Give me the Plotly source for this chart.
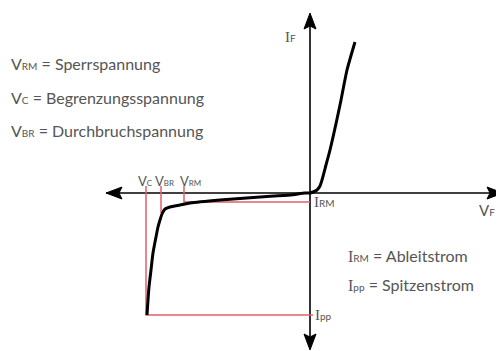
import plotly.graph_objects as go

# I-V characteristic (arbitrary units; origin = axis crossing)
curve_v = [-163, -162, -161, -159, -157, -154, -152, -150, -148, -145, -140, -130, -120,
           -90, -50, -20, -5, 0, 3, 7, 10, 12, 16, 20, 30, 37, 45]
curve_i = [-122, -107, -94, -77, -60, -44, -34, -27, -21, -16, -14, -12, -10,
           -7, -4, -2, 0, 0, 1, 3, 7, 13, 28, 43, 88, 123, 151]

# characteristic points
V_C, V_BR, V_RM = -164, -149, -126
I_RM, I_PP = -9, -122
I_BR = -20          # current on the curve at V_BR
MARK_TOP = 7        # top end of the red marker lines

# axis extents
X_MIN, X_MAX = -204, 193
Y_MIN, Y_MAX = -157, 180

SUB = "<span style='font-size:10px'>{}</span>"
SERIF_I = "<span style='font-family:\"Liberation Serif\"'>I</span>"

legend_left = ["V" + SUB.format("RM") + " = Sperrspannung",
               "V" + SUB.format("C") + " = Begrenzungsspannung",
               "V" + SUB.format("BR") + " = Durchbruchspannung"]
legend_left_i = [130, 96, 63]

legend_right = [SERIF_I + SUB.format("RM") + " = Ableitstrom",
                SERIF_I + SUB.format("pp") + " = Spitzenstrom"]
legend_right_i = [-62, -91]

RED = "#e0606c"
GREY = "#555555"
FONT = "Lato"

fig = go.Figure()

# axes
fig.add_trace(go.Scatter(x=[X_MIN, X_MAX - 10], y=[0, 0], mode="lines",
                         line=dict(color="black", width=1.6), hoverinfo="skip"))
fig.add_trace(go.Scatter(x=[0, 0], y=[Y_MIN + 10, Y_MAX - 10], mode="lines",
                         line=dict(color="black", width=1.6), hoverinfo="skip"))

# arrowheads
L, W, N = 16, 6, 3
heads = [
    ([X_MIN, X_MIN + L, X_MIN + L - N, X_MIN + L, X_MIN], [0, W, 0, -W, 0]),
    ([X_MAX, X_MAX - L, X_MAX - L + N, X_MAX - L, X_MAX], [0, W, 0, -W, 0]),
    ([0, W, 0, -W, 0], [Y_MAX, Y_MAX - L, Y_MAX - L + N, Y_MAX - L, Y_MAX]),
    ([0, W, 0, -W, 0], [Y_MIN, Y_MIN + L, Y_MIN + L - N, Y_MIN + L, Y_MIN]),
]
for hx, hy in heads:
    fig.add_trace(go.Scatter(x=hx, y=hy, mode="lines", fill="toself",
                             fillcolor="black", line=dict(color="black", width=1),
                             hoverinfo="skip"))

# red marker lines
fig.add_trace(go.Scatter(x=[V_RM, V_RM, 0], y=[MARK_TOP, I_RM, I_RM], mode="lines",
                         line=dict(color=RED, width=1.5), hoverinfo="skip"))
fig.add_trace(go.Scatter(x=[V_C, V_C, 3], y=[MARK_TOP, I_PP, I_PP], mode="lines",
                         line=dict(color=RED, width=1.5), hoverinfo="skip"))
fig.add_trace(go.Scatter(x=[V_BR, V_BR], y=[MARK_TOP, I_BR], mode="lines",
                         line=dict(color=RED, width=1.5), hoverinfo="skip"))

# characteristic curve
fig.add_trace(go.Scatter(x=curve_v, y=curve_i, mode="lines",
                         line=dict(color="black", width=3, shape="spline", smoothing=0.6),
                         hoverinfo="skip"))

ann = []
def txt(x, y, text, size=15, xanchor="left", yanchor="middle"):
    ann.append(dict(x=x, y=y, xref="x", yref="y", text=text, showarrow=False,
                    xanchor=xanchor, yanchor=yanchor,
                    font=dict(family=FONT, size=size, color=GREY)))

for t, yy in zip(legend_left, legend_left_i):
    txt(-301, yy, t, size=16)
for t, yy in zip(legend_right, legend_right_i):
    txt(36, yy, t, size=16)

SUBS = "<span style='font-size:8px'>{}</span>"
txt(-165, 12, "V" + SUBS.format("C"), size=13, xanchor="center")
txt(-146, 12, "V" + SUBS.format("BR"), size=13, xanchor="center")
txt(-120, 12, "V" + SUBS.format("RM"), size=13, xanchor="center")
txt(2, I_RM, SERIF_I + SUB.format("RM"), size=15)
txt(3, I_PP, SERIF_I + SUB.format("pp"), size=15)
txt(-12, 156, SERIF_I + SUB.format("F"), size=15, xanchor="right")
txt(177, -17, "V" + SUB.format("F"), size=15, xanchor="center")

# the page body has an 8px margin: size the figure to the remaining window area
fig.update_layout(
    width=496, height=343, margin=dict(l=0, r=0, t=0, b=0),
    paper_bgcolor="white", plot_bgcolor="white", showlegend=False,
    xaxis=dict(range=[-302, 194], visible=False, fixedrange=True),
    yaxis=dict(range=[-158, 185], visible=False, fixedrange=True),
    annotations=ann,
)

fig.write_html("out.html")
